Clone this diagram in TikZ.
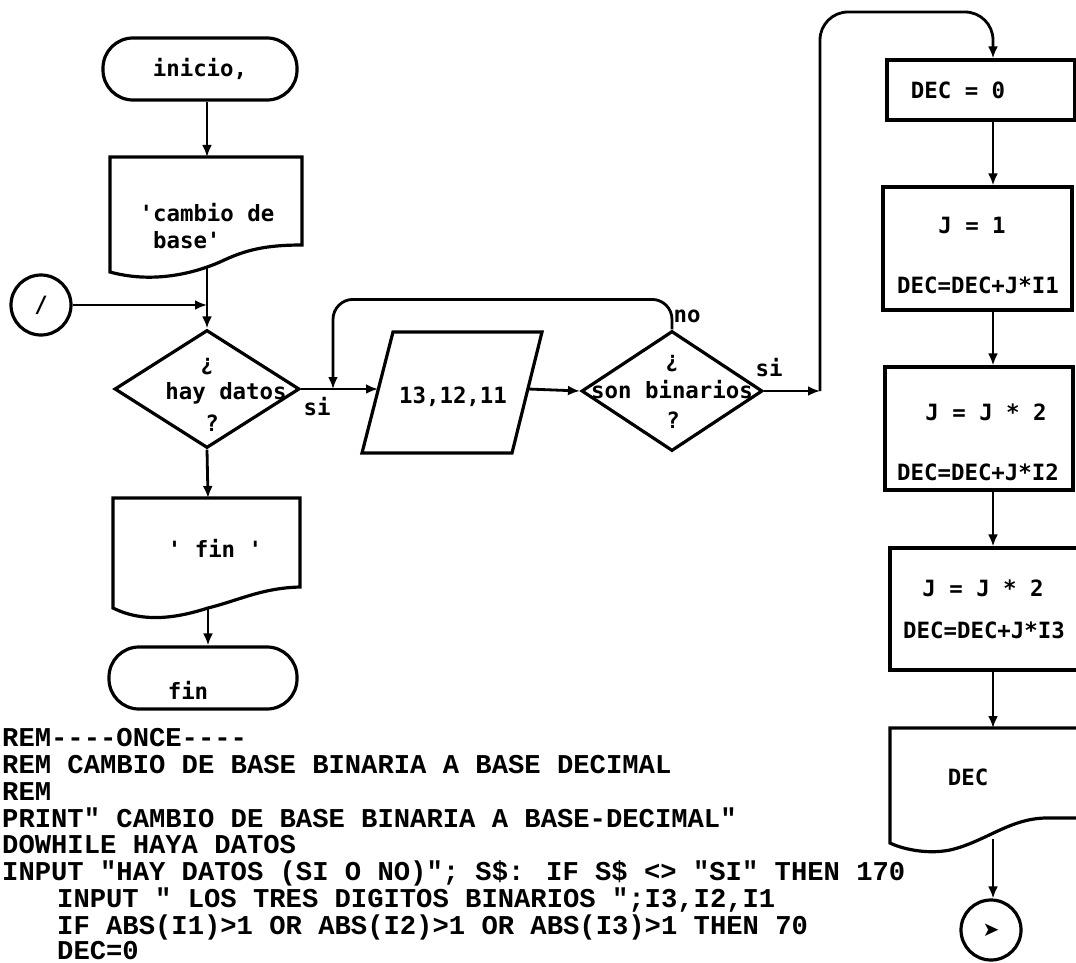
\documentclass[tikz,border=0pt]{standalone}
\usepackage{fontspec}
\usetikzlibrary{shapes.geometric,arrows.meta,calc}
\newfontfamily\flowfont{DejaVu Sans Mono}
\newfontfamily\codefont{Liberation Mono}
\newfontfamily\symbfont{DejaVu Sans}
\tikzset{
  shp/.style={draw, line width=3.2pt},
  conn/.style={line width=2.8pt, -{Latex[length=12pt,width=10pt]}},
  plain/.style={line width=2.8pt},
  lbl/.style={font=\flowfont\bfseries\fontsize{22.4}{27}\selectfont, inner sep=0pt},
  code/.style={font=\codefont\bfseries\fontsize{27.2}{27.2}\selectfont, anchor=base west, inner sep=0pt},
  term/.style={shp, rectangle, rounded corners=30pt, inner sep=0pt},
  pbox/.style={shp, rectangle, inner sep=0pt},
  dia/.style={shp, diamond, inner sep=0pt},
  conncirc/.style={shp, circle, minimum size=60pt, inner sep=0pt},
}
\begin{document}
\begin{tikzpicture}[x=1pt,y=-1pt]
\useasboundingbox (0,0) rectangle (1076,963);
\clip (0,0) rectangle (1076,963);
\fill[white] (0,0) rectangle (1076,963);

% ---------- left column ----------
\node[term, minimum width=194pt, minimum height=62pt, lbl] (inicio) at (200,69) {inicio,};

\draw[shp] (110,157) -- (302,157) -- (302,245)
  .. controls (265,245) and (245,250) .. (220,262)
  .. controls (190,275) and (150,283) .. (110,272) -- cycle;
\coordinate (cambioin) at (207,157);
\coordinate (cambioout) at (207,266);
\node[lbl, align=left] (cambio) at (207,226) {'cambio de\\\hphantom{b}base'};

\node[conncirc, lbl] (conA) at (41,305) {/};

\node[dia, minimum width=185pt, minimum height=118pt] (dia1) at (207,389) {};
\node[lbl] (q1a) at (207,367) {¿};
\node[lbl] (q1b) at (226,393) {hay datos};
\node[lbl] (q1c) at (212,423) {?};
\node[lbl] (si1) at (317,407) {si};

\draw[shp] (113,498) -- (300,498) -- (300,587)
  .. controls (262,588) and (240,600) .. (208,608)
  .. controls (180,617) and (145,624) .. (113,608) -- cycle;
\coordinate (finin) at (208,498);
\coordinate (finout) at (208,609);
\node[lbl] (fintxt) at (215,548) {' fin '};

\node[term, minimum width=188pt, minimum height=62pt] (fin) at (203,678) {};
\node[lbl] (fintxt2) at (188,690) {fin};

% ---------- middle ----------
\coordinate (jB) at (333,389);
\draw[shp] (393,332) -- (542,332) -- (512,453) -- (362,453) -- cycle;
\coordinate (paraIn) at (378,389);
\coordinate (paraOut) at (528,389);
\node[lbl] (para) at (453,397) {13,12,11};

\node[dia, minimum width=181pt, minimum height=120pt] (dia2) at (672,391) {};
\node[lbl] (q2a) at (672,364) {¿};
\node[lbl] (q2b) at (672,390) {son binarios};
\node[lbl] (q2c) at (673,420) {?};
\node[lbl] (no2) at (687,316) {no};
\node[lbl] (si2) at (769,368) {si};
\coordinate (jC) at (820,391);

% ---------- right column ----------
\coordinate (col) at (993,12);
\node[pbox, minimum width=188pt, minimum height=60pt] (dec0) at (981,90) {};
\node[lbl] (dec0t) at (958,90) {DEC = 0};

\node[pbox, minimum width=189pt, minimum height=123pt] (j1) at (977.5,248.5) {};
\node[lbl] (j1a) at (972,225) {J = 1};
\node[lbl] (j1b) at (978,285) {DEC=DEC+J*I1};

\node[pbox, minimum width=188pt, minimum height=123pt] (b2) at (979,428.5) {};
\node[lbl] (b2a) at (986,412) {J = J * 2};
\node[lbl] (b2b) at (978,472) {DEC=DEC+J*I2};

\node[pbox, minimum width=190pt, minimum height=122pt] (b3) at (985,609) {};
\node[lbl] (b3a) at (983,588) {J = J * 2};
\node[lbl] (b3b) at (984,630) {DEC=DEC+J*I3};

\draw[shp] (890,728) -- (1082,728) -- (1082,818) -- (1047,818)
  .. controls (1010,818) and (985,842) .. (950,850)
  .. controls (925,855) and (900,848) .. (890,843) -- cycle;
\coordinate (decin) at (993,728);
\coordinate (decout) at (993,839);
\node[lbl] (dect) at (968,777) {DEC};

\node[conncirc, font=\symbfont\fontsize{20}{20}\selectfont] (conB) at (991,930) {➤};

% ---------- connectors ----------
\draw[conn] (inicio.south -| cambioin) -- (cambioin);
\draw[conn] (conA.east) -- (conA.east -| cambioout);
\draw[conn] (cambioout) -- (dia1.north);
\draw[conn] (dia1.south) -- (finin);
\draw[conn] (finout) -- (finout |- fin.north);
\draw[plain] (dia1.east) -- (jB);
\draw[conn] (jB) -- (paraIn);
\draw[conn] (paraOut) -- (dia2.west);
\draw[conn, rounded corners=20pt] (dia2.north) -- ++(0,-30) -| (jB);
\draw[conn] (dia2.east) -- (jC);
\draw[conn, rounded corners=28pt] (jC) |- (col) -- (dec0.north -| col);
\draw[conn] (dec0.south -| col) -- (j1.north -| col);
\draw[conn] (j1.south -| col) -- (b2.north -| col);
\draw[conn] (b2.south -| col) -- (b3.north -| col);
\draw[conn] (b3.south -| col) -- (decin);
\draw[conn] (decout) -- (conB.north -| decout);

% ---------- program listing ----------
\node[code] (c1) at (2,746) {REM----ONCE----};
\node[code] (c2) at (2,773) {REM CAMBIO DE BASE BINARIA A BASE DECIMAL};
\node[code] (c3) at (2,800) {REM};
\node[code] (c4) at (2,827) {PRINT" CAMBIO DE BASE BINARIA A BASE-DECIMAL"};
\node[code] (c5) at (2,853) {DOWHILE HAYA DATOS};
\node[code] (c6) at (2,880) {INPUT "HAY DATOS (SI O NO)"; S\$: IF S\$ <> "SI" THEN 170};
\node[code] (c7) at (57,907) {INPUT " LOS TRES DIGITOS BINARIOS ";I3,I2,I1};
\node[code] (c8) at (57,934) {IF ABS(I1)>1 OR ABS(I2)>1 OR ABS(I3)>1 THEN 70};
\node[code] (c9) at (57,959) {DEC=0};
\end{tikzpicture}
\end{document}
